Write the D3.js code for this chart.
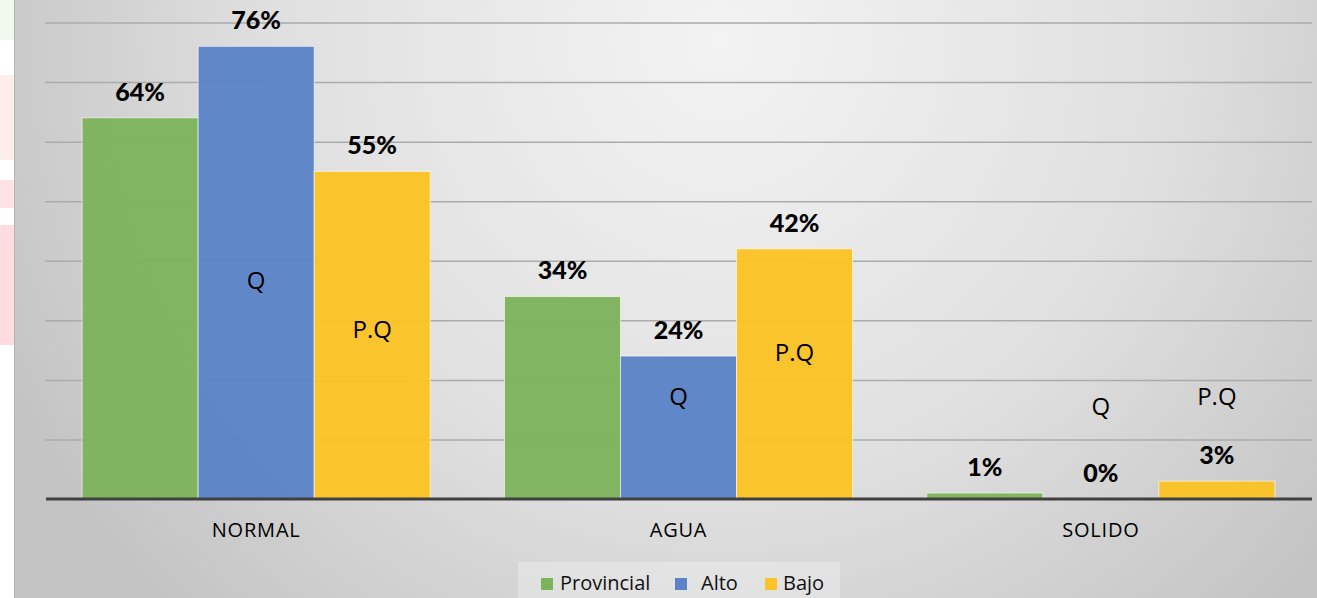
<!DOCTYPE html>
<html><head><meta charset="utf-8">
<script src="https://cdn.jsdelivr.net/npm/d3@7"></script>
<style>html,body{margin:0;padding:0;background:#fff;overflow:hidden}svg{display:block}</style>
</head><body>
<script>
const categories = ["NORMAL", "AGUA", "SOLIDO"];
const seriesNames = ["Provincial", "Alto", "Bajo"];
const provincial = [64, 34, 1];
const alto = [76, 24, 0];
const bajo = [55, 42, 3];
const seriesColors = ["#7db35d", "#5b83c7", "#fbc325"];
// text annotations: [category, series, text, y-level in % units]
const notes = [
  ["NORMAL", "Alto", "Q", 35.2],
  ["NORMAL", "Bajo", "P.Q", 27.0],
  ["AGUA", "Alto", "Q", 15.7],
  ["AGUA", "Bajo", "P.Q", 23.1],
  ["SOLIDO", "Alto", "Q", 14.1],
  ["SOLIDO", "Bajo", "P.Q", 15.7]
];
const yTicks = [0, 10, 20, 30, 40, 50, 60, 70, 80];

const W = 1317, H = 598;
const svg = d3.select("body").append("svg").attr("width", W).attr("height", H);
const defs = svg.append("defs");
const rg = defs.append("radialGradient").attr("id", "bg").attr("gradientUnits", "userSpaceOnUse")
  .attr("cx", 720).attr("cy", 40).attr("r", 800);
rg.append("stop").attr("offset", 0).attr("stop-color", "#f3f3f3");
rg.append("stop").attr("offset", 0.55).attr("stop-color", "#e0e0e0");
rg.append("stop").attr("offset", 1).attr("stop-color", "#c3c3c3");

// faint watermark on the left strip
svg.append("rect").attr("x", 0).attr("y", 0).attr("width", 14).attr("height", 40).attr("fill", "#f1f8ee");
svg.append("rect").attr("x", 0).attr("y", 75).attr("width", 14).attr("height", 85).attr("fill", "#fdeee9");
svg.append("rect").attr("x", 0).attr("y", 180).attr("width", 14).attr("height", 28).attr("fill", "#ffe2e4");
svg.append("rect").attr("x", 0).attr("y", 225).attr("width", 14).attr("height", 120).attr("fill", "#ffdcdf");

svg.append("rect").attr("x", 14).attr("y", 0).attr("width", W - 14).attr("height", H).attr("fill", "url(#bg)");
svg.append("line").attr("x1", 14.5).attr("x2", 14.5).attr("y1", 0).attr("y2", H).attr("stroke", "#b5b5b5");

const x0 = d3.scaleBand().domain(categories).range([45, 1312]).paddingInner(0).paddingOuter(0);
const x1 = d3.scaleBand().domain(seriesNames).range([0, x0.bandwidth()]).paddingInner(0).paddingOuter(0.32);
const y = d3.scaleLinear().domain([0, 80]).range([499, 22.5]);

// gridlines
const grid = svg.append("g").attr("transform", "translate(45,0)")
  .call(d3.axisLeft(y).tickValues(yTicks.filter(d => d > 0)).tickSize(-(1312 - 45)).tickFormat(""));
grid.select(".domain").remove();
grid.selectAll(".tick line").attr("stroke", "#ababab").attr("stroke-width", 1.5);

const data = categories.map((c, i) => ({cat: c, vals: [provincial[i], alto[i], bajo[i]]}));

const groups = svg.append("g").selectAll("g").data(data).join("g")
  .attr("transform", d => `translate(${x0(d.cat)},0)`);
groups.selectAll("rect").data(d => d.vals.map((v, j) => ({v, s: seriesNames[j], j})))
  .join("rect")
  .attr("x", d => x1(d.s))
  .attr("width", x1.bandwidth())
  .attr("y", d => y(d.v))
  .attr("height", d => y(0) - y(d.v))
  .attr("fill", d => seriesColors[d.j])
  .attr("fill-opacity", 0.96)
  .attr("stroke", d => d.v > 0 ? "rgba(255,255,255,0.6)" : "none")
  .attr("stroke-width", 1);

groups.selectAll("text.val").data(d => d.vals.map((v, j) => ({v, s: seriesNames[j]})))
  .join("text").attr("class", "val")
  .attr("x", d => x1(d.s) + x1.bandwidth() / 2)
  .attr("y", d => y(d.v) - 17)
  .attr("text-anchor", "middle")
  .attr("font-family", "Lato, 'Open Sans', sans-serif")
  .attr("font-weight", "900")
  .attr("font-size", 25)
  .attr("fill", "#000")
  .text(d => d.v + "%");

svg.append("g").selectAll("text").data(notes).join("text")
  .attr("x", d => x0(d[0]) + x1(d[1]) + x1.bandwidth() / 2)
  .attr("y", d => y(d[3]))
  .attr("text-anchor", "middle")
  .attr("font-family", "'Open Sans', sans-serif")
  .attr("font-size", 24)
  .attr("fill", "#000")
  .text(d => d[2]);

// baseline axis
const xAxis = svg.append("g").attr("transform", `translate(0,${y(0)})`)
  .call(d3.axisBottom(x0).tickSize(0).tickPadding(0));
xAxis.select(".domain").attr("stroke", "#404040").attr("stroke-width", 3).attr("d", "M46,0H1312");
xAxis.selectAll(".tick text").attr("y", 38).attr("dy", 0)
  .attr("font-family", "'Open Sans', sans-serif").attr("font-size", 20)
  .attr("letter-spacing", "0.8px").attr("fill", "#000");

// legend
svg.append("rect").attr("x", 518).attr("y", 562).attr("width", 322).attr("height", 36)
  .attr("fill", "#ffffff").attr("fill-opacity", 0.28);
const legendX = [541, 675, 765];
const lg = svg.append("g").selectAll("g").data(seriesNames).join("g")
  .attr("transform", (d, i) => `translate(${legendX[i]},0)`);
lg.append("rect").attr("x", 0).attr("y", 578).attr("width", 12).attr("height", 12)
  .attr("fill", (d, i) => seriesColors[i]);
lg.append("text").attr("x", (d, i) => [19, 26, 18][i]).attr("y", 590)
  .attr("font-family", "'Open Sans', sans-serif").attr("font-size", 20).attr("fill", "#111")
  .text(d => d);
</script>
</body></html>
